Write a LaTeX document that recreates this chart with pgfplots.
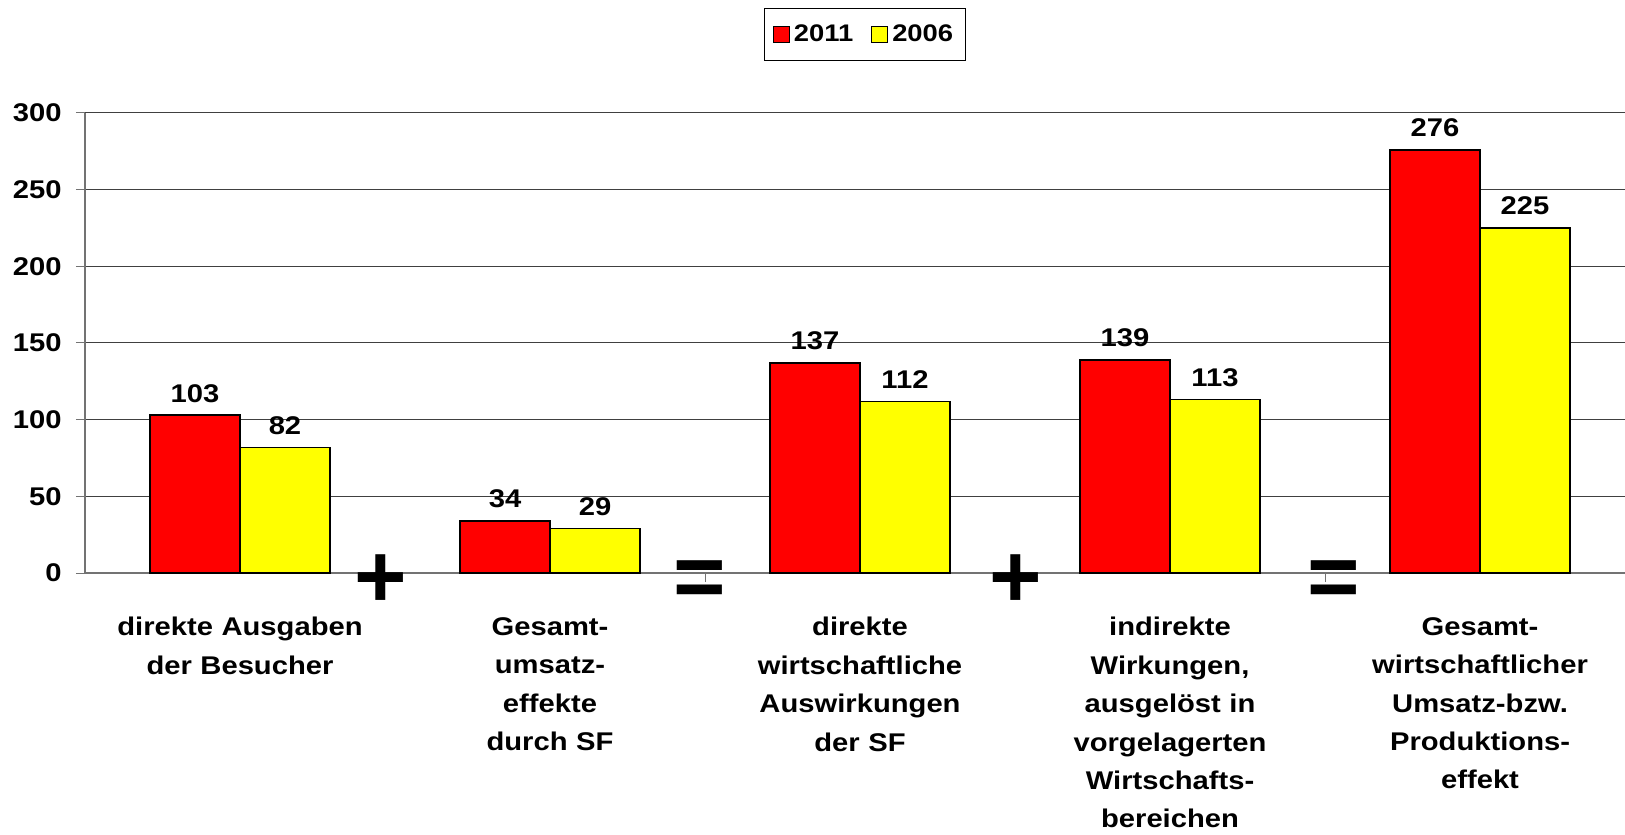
\documentclass[border=0pt]{standalone}
\usepackage{fontspec}
\setmainfont{Liberation Sans}[FakeStretch=1.14]
\newfontfamily\signfont{Liberation Sans}
\usepackage{pgfplots}
\pgfplotsset{compat=1.18}
\definecolor{barred}{RGB}{255,0,0}
\definecolor{baryellow}{RGB}{255,255,0}
\pgfplotsset{
  sqlegend/.style={legend image code/.code={\draw[##1, line width=0.5pt] (0pt,-4pt) rectangle (8pt,4pt);}},
}
\begin{document}
\begin{tikzpicture}
\begin{axis}[
  at={(0,0)}, anchor=south west,
  width=770pt, height=230pt, scale only axis,
  ybar=0pt, bar width=45pt,
  xmin=-0.5, xmax=4.4677, ymin=0, ymax=300,
  clip=false,
  axis lines=left,
  axis line style={-, draw=black!55, line width=0.6pt},
  ytick={0,50,...,300},
  ymajorgrids,
  grid style={black!75, line width=0.5pt},
  tick align=outside,
  major tick length=4.5pt,
  tick style={black!55, line width=0.5pt},
  /pgf/number format/assume math mode=true,
  yticklabel style={font=\fontsize{12.8}{15}\selectfont\bfseries, inner sep=0pt, xshift=-7pt},
  xtick={0.5,1.5,2.5,3.5},
  xticklabels={},
  extra x ticks={0,1,2,3,4},
  extra x tick labels={
    {direkte Ausgaben\\der Besucher},
    {Gesamt-\\umsatz-\\effekte\\durch SF},
    {direkte\\wirtschaftliche\\Auswirkungen\\der SF},
    {indirekte\\Wirkungen,\\ausgelöst in\\vorgelagerten\\Wirtschafts-\\bereichen},
    {Gesamt-\\wirtschaftlicher\\Umsatz-bzw.\\Produktions-\\effekt}},
  extra x tick style={major tick length=0pt, grid=none,
    xticklabel style={text width=150pt, align=center, anchor=north, inner sep=0pt, yshift=-22pt,
      font=\fontsize{12.8}{19.2}\selectfont\bfseries}},
  legend style={at={(0.5065,1.17)}, anchor=center, legend columns=2, draw=black, line width=0.5pt,
    font=\fontsize{12}{13}\selectfont\bfseries, inner xsep=4pt, inner ysep=6pt,
    /tikz/every even column/.append style={column sep=7pt}},
  nodes near coords,
  every node near coord/.append style={font=\fontsize{12.8}{15}\selectfont\bfseries, anchor=south, inner sep=0pt, yshift=6pt, black},
]
\addplot[fill=barred, draw=black, line width=0.75pt, sqlegend]
  coordinates {(0,103) (1,34) (2,137) (3,139) (4,276)};
\addplot[fill=baryellow, draw=black, line width=0.75pt, sqlegend]
  coordinates {(0,82) (1,29) (2,112) (3,113) (4,225)};
\legend{2011,2006}
\node[font=\signfont\bfseries\fontsize{45}{45}\selectfont, inner sep=0pt] at (axis cs:0.455,-5.5) {+};
\node[font=\signfont\bfseries\fontsize{45}{45}\selectfont, inner sep=0pt] at (axis cs:1.484,-7.5) {=};
\node[font=\signfont\bfseries\fontsize{45}{45}\selectfont, inner sep=0pt] at (axis cs:2.503,-5.5) {+};
\node[font=\signfont\bfseries\fontsize{45}{45}\selectfont, inner sep=0pt] at (axis cs:3.529,-7.5) {=};
\end{axis}
\pgfresetboundingbox
\path[use as bounding box] (-42.5pt,-130.5pt) rectangle (770pt,286.5pt);
\end{tikzpicture}
\end{document}
